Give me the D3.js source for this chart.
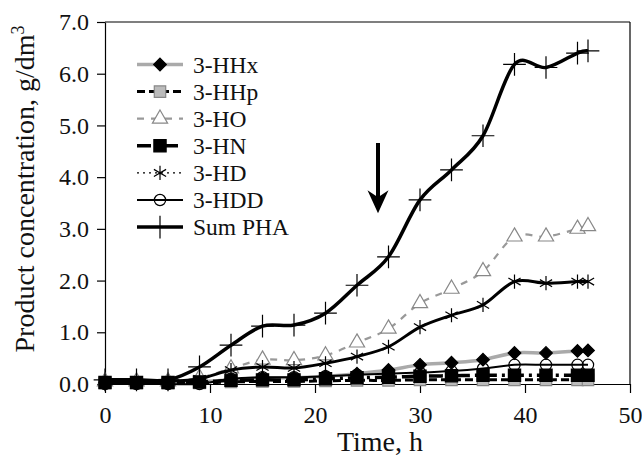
<!DOCTYPE html>
<html><head><meta charset="utf-8">
<script src="https://cdn.jsdelivr.net/npm/d3@7"></script>
<style>
html,body{margin:0;padding:0;background:#fff;}
text{font-family:"Liberation Serif","Times New Roman",serif;fill:#111;}
</style></head>
<body>
<svg id="c" width="642" height="459"></svg>
<script>
const times = [0,3,6,9,12,15,18,21,24,27,30,33,36,39,42,45,46];
const hhx  = [0.03,0.03,0.03,0.04,0.08,0.12,0.12,0.15,0.20,0.27,0.37,0.41,0.47,0.60,0.60,0.64,0.65];
const hhp  = [0.02,0.02,0.02,0.02,0.04,0.05,0.05,0.06,0.07,0.07,0.08,0.08,0.08,0.08,0.08,0.08,0.08];
const ho   = [0.05,0.05,0.05,0.12,0.30,0.47,0.46,0.55,0.80,1.07,1.56,1.84,2.18,2.85,2.85,3.00,3.05];
const hn   = [0.03,0.03,0.03,0.04,0.07,0.08,0.08,0.10,0.12,0.13,0.15,0.16,0.17,0.17,0.17,0.17,0.17];
const hd   = [0.05,0.05,0.05,0.10,0.27,0.33,0.31,0.40,0.53,0.72,1.10,1.33,1.53,1.98,1.95,1.98,1.98];
const hdd  = [0.00,0.00,0.00,0.00,0.10,0.13,0.13,0.15,0.18,0.20,0.22,0.25,0.30,0.37,0.37,0.37,0.37];
const sumPHA = [0.08,0.08,0.08,0.33,0.75,1.12,1.14,1.37,1.91,2.46,3.56,4.14,4.80,6.18,6.12,6.40,6.44];
const xTicks = [0,10,20,30,40,50];
const yTicks = [0,1,2,3,4,5,6,7];
const seriesNames = ["3-HHx","3-HHp","3-HO","3-HN","3-HD","3-HDD","Sum PHA"];
const arrowT = 26, arrowFrom = 4.66, arrowTo = 3.30;

const svg = d3.select("#c");
const x = d3.scaleLinear().domain([0,50]).range([105,630]);
const y = d3.scaleLinear().domain([0,7]).range([384,22]);
const FS = "28px", TFS = "24px", LFS = "23.5px";

// frame
svg.append("line").attr("x1",105).attr("x2",630).attr("y1",y(7)).attr("y2",y(7)).attr("stroke","#000").attr("stroke-width",1.2);
svg.append("line").attr("x1",630).attr("x2",630).attr("y1",y(7)).attr("y2",y(0)).attr("stroke","#000").attr("stroke-width",1.2);

const gx = svg.append("g").attr("transform",`translate(0,${y(0)})`)
  .call(d3.axisBottom(x).tickValues(xTicks).tickFormat(d3.format("d")).tickSize(9).tickSizeOuter(0).tickPadding(13));
const gy = svg.append("g").attr("transform",`translate(${x(0)},0)`)
  .call(d3.axisLeft(y).tickValues(yTicks).tickFormat(d3.format(".1f")).tickSize(8).tickSizeOuter(0).tickPadding(8));
[gx,gy].forEach(g=>{
  g.selectAll("text").style("font-family",'"Liberation Serif",serif').style("font-size",TFS).attr("fill","#111");
  g.selectAll("line,path").attr("stroke","#000").attr("stroke-width",1.2);
});

svg.append("text").attr("x",380).attr("y",451).attr("text-anchor","middle").style("font-size",FS).text("Time, h");
const yt = svg.append("text").attr("transform","translate(34,189) rotate(-90)").attr("text-anchor","middle").style("font-size",FS);
yt.append("tspan").text("Product concentration, g/dm");
yt.append("tspan").attr("dy",-10).style("font-size","18px").text("3");

const data = d => times.map((t,i)=>[t,d[i]]);
const line = d3.line().x(d=>x(d[0])).y(d=>y(d[1])).curve(d3.curveCatmullRom.alpha(0));

const diamond = {draw(ctx,size){const r=Math.sqrt(size/2);ctx.moveTo(0,-r);ctx.lineTo(r,0);ctx.lineTo(0,r);ctx.lineTo(-r,0);ctx.closePath();}};

const styles = [
  {vals:hhx, stroke:"#aaa", w:3.5, dash:null, sym:diamond, size:80, fill:"#000", sstroke:"#000"},
  {vals:hhp, stroke:"#000", w:3, dash:"8,4", sym:d3.symbolSquare, size:130, fill:"#bbb", sstroke:"#888"},
  {vals:ho, stroke:"#999", w:2.2, dash:"7,7", sym:d3.symbolTriangle, size:100, fill:"#fff", sstroke:"#888"},
  {vals:hn, stroke:"#000", w:3.5, dash:"14,5,3,5", sym:d3.symbolSquare, size:150, fill:"#000", sstroke:"#000"},
  {vals:hd, stroke:"#000", w:3, dash:null, sym:d3.symbolAsterisk, size:140, fill:"none", sstroke:"#000", lw:1.3, ldash:"2,4"},
  {vals:hdd, stroke:"#000", w:2, dash:null, sym:d3.symbolCircle, size:100, fill:"none", sstroke:"#000"},
  {vals:sumPHA, stroke:"#000", w:3.5, dash:null, sym:d3.symbolPlus, size:170, fill:"none", sstroke:"#000"}
];

styles.forEach(s=>{
  svg.append("path").attr("d",line(data(s.vals))).attr("fill","none").attr("stroke",s.stroke)
    .attr("stroke-width",s.w).attr("stroke-dasharray",s.dash);
  const sg = d3.symbol().type(s.sym).size(s.size);
  svg.append("g").selectAll("path").data(data(s.vals)).join("path")
    .attr("transform",d=>`translate(${x(d[0])},${y(d[1])})`)
    .attr("d",sg).attr("fill",s.fill).attr("stroke",s.sstroke).attr("stroke-width",1.2);
});

// legend
const lg = svg.append("g");
styles.forEach((s,i)=>{
  const cy = 64.5 + i*27.1;
  lg.append("line").attr("x1",137).attr("x2",183).attr("y1",cy).attr("y2",cy)
    .attr("stroke",s.stroke).attr("stroke-width",s.lw||s.w).attr("stroke-dasharray",s.ldash||s.dash);
  lg.append("path").attr("transform",`translate(160,${cy})`).attr("d",d3.symbol().type(s.sym).size(s.size)())
    .attr("fill",s.fill).attr("stroke",s.sstroke).attr("stroke-width",1.2);
  lg.append("text").attr("x",193).attr("y",cy+8).style("font-size",LFS).text(seriesNames[i]);
});

// arrow
const ax = x(arrowT), a1 = y(arrowFrom), a2 = y(arrowTo);
svg.append("line").attr("x1",ax).attr("x2",ax).attr("y1",a1).attr("y2",a2-12).attr("stroke","#000").attr("stroke-width",4);
svg.append("path").attr("d",`M${ax},${a2} L${ax-10.5},${a2-23} L${ax},${a2-16} L${ax+10.5},${a2-23} Z`).attr("fill","#000");
</script>
</body></html>
